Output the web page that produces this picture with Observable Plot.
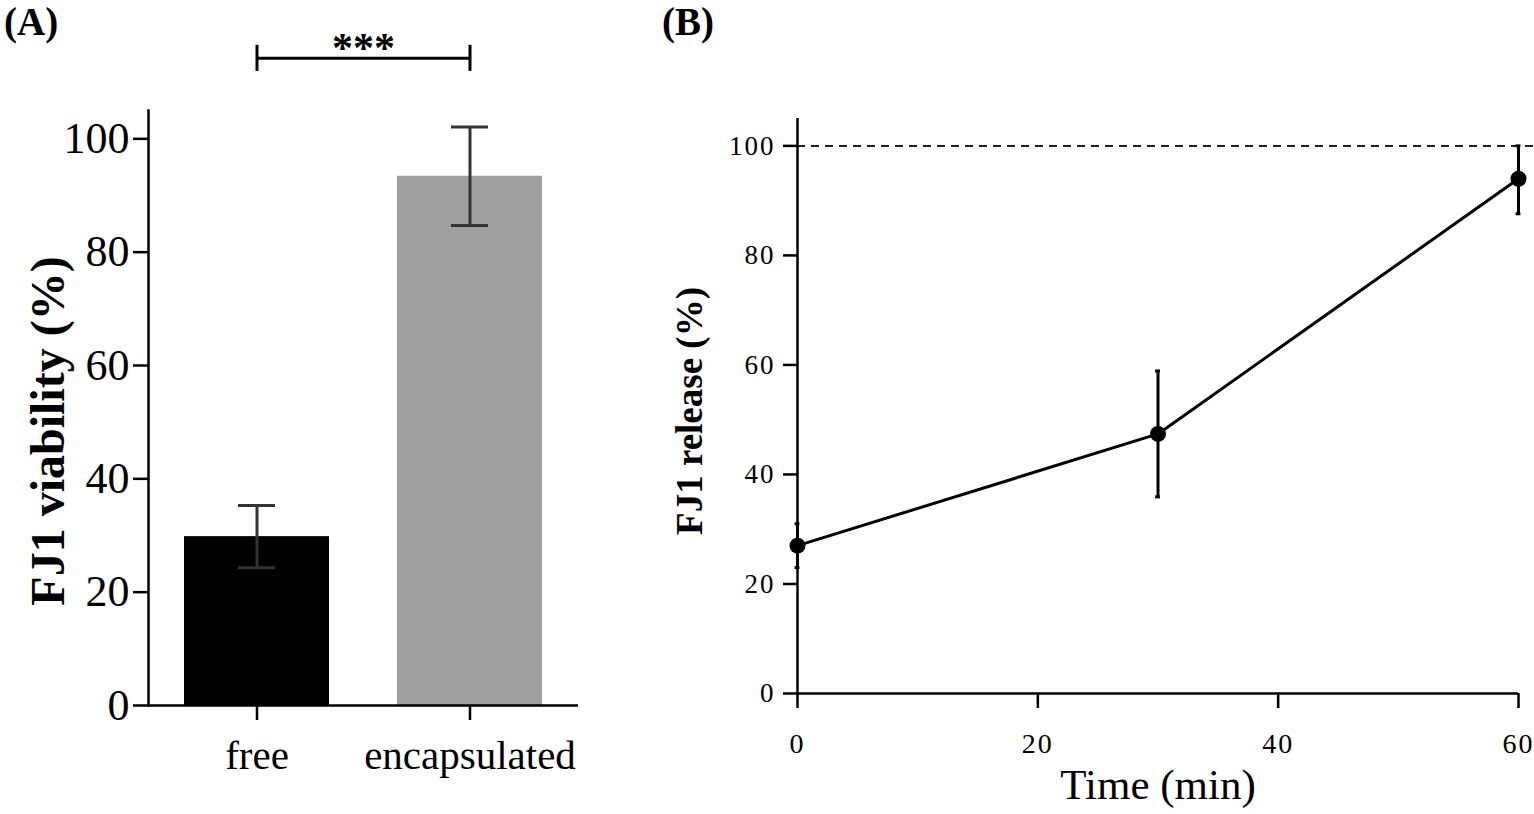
<!DOCTYPE html>
<html><head><meta charset="utf-8">
<script src="https://cdn.jsdelivr.net/npm/d3@7"></script>
<script src="https://cdn.jsdelivr.net/npm/@observablehq/plot@0.6"></script>
<style>
body{margin:0;background:#fff;}
#wrap{position:relative;width:1534px;height:814px;overflow:hidden;font-family:"Liberation Serif",serif;background:#fff;}
.panel{position:absolute;top:0;}
.tag{position:absolute;font-weight:bold;font-size:39px;line-height:1;color:#000;}
#B g[aria-label="y-axis tick label"], #B g[aria-label="x-axis tick label"]{letter-spacing:2px;}
</style></head><body>
<div id="wrap">
  <div id="A" class="panel" style="left:0"></div>
  <div id="B" class="panel" style="left:640px"></div>
  <div class="tag" style="left:4px;top:2px">(A)</div>
  <div class="tag" style="left:662px;top:2px">(B)</div>
</div>
<script>
// ---- Panel A data ----
const categories = ["free", "encapsulated"];
const viability = [29.8, 93.4];
const viabilityLow = [24.3, 84.7];
const viabilityHigh = [35.3, 102.1];
const viabilityTicks = [0, 20, 40, 60, 80, 100];
const sigPair = ["free", "encapsulated"];
const sigLabel = "***";
const sigLevel = 114.2;
const sigCapLow = 111.9;
const sigCapHigh = 116.5;
const yLabelA = "FJ1 viability (%)";

// ---- Panel B data ----
const times = [0, 30, 60];
const release = [27.0, 47.4, 94.0];
const releaseLow = [23.0, 35.9, 87.6];
const releaseHigh = [31.0, 58.9, 100.0];
const releaseTicks = [0, 20, 40, 60, 80, 100];
const timeTicks = [0, 20, 40, 60];
const completeRelease = 100;
const yLabelB = "FJ1 release (%)";
const xLabelB = "Time (min)";

const barData = categories.map((c, i) => ({cat: c, v: viability[i], lo: viabilityLow[i], hi: viabilityHigh[i]}));
const lineData = times.map((t, i) => ({t, v: release[i], lo: releaseLow[i], hi: releaseHigh[i]}));

const baseStyle = {fontFamily: "Liberation Serif", color: "black", background: "white", overflow: "visible"};

const plotA = Plot.plot({
  width: 640, height: 814,
  marginLeft: 148, marginRight: 62, marginTop: 110, marginBottom: 109,
  style: baseStyle,
  x: {type: "band", domain: categories, paddingInner: 0.32, paddingOuter: 0.165},
  y: {domain: [0, 105]},
  color: {domain: categories, range: ["#000000", "#a0a0a0"]},
  marks: [
    Plot.barY(barData, {x: "cat", y: "v", fill: "cat"}),
    Plot.ruleX(barData, {x: "cat", y1: "lo", y2: "hi", stroke: "#333", strokeWidth: 3}),
    Plot.tickY(barData, {x: "cat", y: "lo", stroke: "#333", strokeWidth: 3, insetLeft: 54, insetRight: 54}),
    Plot.tickY(barData, {x: "cat", y: "hi", stroke: "#333", strokeWidth: 3, insetLeft: 54, insetRight: 54}),
    Plot.frame({anchor: "left", stroke: "black", strokeWidth: 2.5}),
    Plot.ruleY([0], {stroke: "black", strokeWidth: 2.5}),
    Plot.axisY({ticks: viabilityTicks, tickSize: 15, tickPadding: 4, fontSize: 44, strokeWidth: 2.5, label: null}),
    Plot.axisX({tickSize: 15, tickPadding: 19, fontSize: 41, strokeWidth: 2.5, label: null}),
    Plot.link([sigPair], {x1: d => d[0], x2: d => d[1], y1: () => sigLevel, y2: () => sigLevel, stroke: "black", strokeWidth: 3}),
    Plot.ruleX(sigPair, {x: d => d, y1: () => sigCapLow, y2: () => sigCapHigh, stroke: "black", strokeWidth: 3}),
    Plot.text([sigLabel], {y: () => sigLevel, text: d => d, lineAnchor: "bottom", dy: 4, fontSize: 42, fontWeight: "bold"}),
    Plot.text([yLabelA], {text: d => d, frameAnchor: "left", textAnchor: "middle", lineAnchor: "middle", rotate: -90, dx: -100, dy: 23, fontSize: 48, fontWeight: "bold"})
  ]
});
document.getElementById("A").appendChild(plotA);

const plotB = Plot.plot({
  width: 894, height: 814,
  marginLeft: 157, marginRight: 16, marginTop: 118, marginBottom: 121,
  style: baseStyle,
  x: {domain: [0, 60]},
  y: {domain: [0, 105]},
  marks: [
    Plot.ruleY([completeRelease], {x1: 0, x2: 61.4, stroke: "#222", strokeWidth: 2, strokeDasharray: "8,6"}),
    Plot.ruleY([0], {stroke: "black", strokeWidth: 2.5}),
    Plot.ruleX([0], {stroke: "black", strokeWidth: 2.5}),
    Plot.axisX({ticks: timeTicks, tickSize: 15, tickPadding: 25, fontSize: 28, strokeWidth: 2.5, label: null}),
    Plot.axisY({ticks: releaseTicks, tickSize: 14, tickPadding: 8, fontSize: 27, strokeWidth: 2.5, label: null}),
    Plot.ruleX(lineData, {x: "t", y1: "lo", y2: "hi", stroke: "black", strokeWidth: 3}),
    Plot.ruleY(lineData, {y: "lo", x1: d => d.t - 0.2, x2: d => d.t + 0.2, stroke: "black", strokeWidth: 3}),
    Plot.ruleY(lineData, {y: "hi", x1: d => d.t - 0.2, x2: d => d.t + 0.2, stroke: "black", strokeWidth: 3}),
    Plot.line(lineData, {x: "t", y: "v", stroke: "black", strokeWidth: 3}),
    Plot.dot(lineData, {x: "t", y: "v", r: 8, fill: "black", stroke: "none"}),
    Plot.text([yLabelB], {text: d => d, frameAnchor: "left", textAnchor: "middle", lineAnchor: "middle", rotate: -90, dx: -107, dy: 5, fontSize: 37, fontWeight: "bold"}),
    Plot.text([xLabelB], {text: d => d, frameAnchor: "bottom", textAnchor: "middle", lineAnchor: "bottom", dy: 105, fontSize: 43})
  ]
});
document.getElementById("B").appendChild(plotB);
</script>
</body></html>
